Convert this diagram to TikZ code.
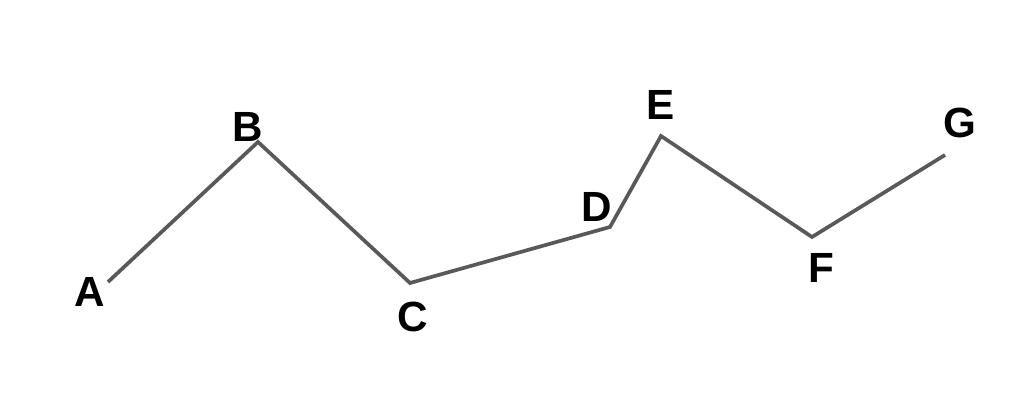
\documentclass[tikz,border=0pt]{standalone}
\usepackage{fontspec}
\setmainfont{Liberation Sans}
\usetikzlibrary{calc}

\begin{document}
\begin{tikzpicture}[x=0.01cm, y=0.01cm, line join=miter]

\tikzset{
  pathline/.style={draw=black!65, line width=1.05pt},
  vlabel/.style={font=\fontsize{12}{14}\selectfont\bfseries, inner sep=0pt}
}

% Frame
\useasboundingbox (0,0) rectangle (1027,410);

% Points
\coordinate (A) at (108,128);
\coordinate (B) at (258,268);
\coordinate (C) at (410,127);
\coordinate (D) at (610,183);
\coordinate (E) at (661,274);
\coordinate (F) at (812,173);
\coordinate (G) at (945,255);

% Labels
\node[vlabel] (lA) at (90,118) {A};
\node[vlabel] (lB) at (248,283) {B};
\node[vlabel] (lC) at (413,93) {C};
\node[vlabel] (lD) at (597,203) {D};
\node[vlabel] (lE) at (661,305) {E};
\node[vlabel] (lF) at (821,142) {F};
\node[vlabel] (lG) at (960,287) {G};

% Path
\draw[pathline] (A) -- (B) -- (C) -- (D) -- (E) -- (F) -- (G);

\end{tikzpicture}
\end{document}
